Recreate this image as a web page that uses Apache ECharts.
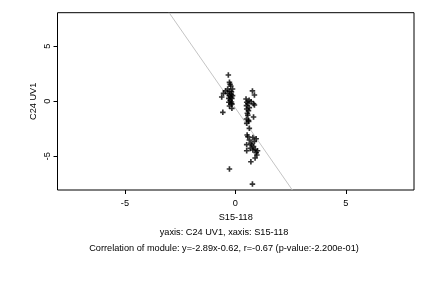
<!DOCTYPE html>
<html><head><meta charset="utf-8">
<script src="https://cdn.jsdelivr.net/npm/echarts@6/dist/echarts.min.js"></script>
<style>html,body{margin:0;padding:0;background:#fff}#c{width:432px;height:288px}</style>
</head><body><div id="c"></div>
<script>
const pointsX = [-0.32,-0.27,-0.24,-0.21,-0.35,-0.45,-0.13,-0.27,-0.18,-0.35,-0.54,-0.19,-0.27,-0.13,-0.21,-0.62,-0.30,-0.16,-0.24,-0.18,-0.30,-0.19,-0.15,-0.27,-0.16,-0.57,-0.27,
  0.77,0.86,0.48,0.62,0.71,0.51,0.82,0.86,0.56,0.50,0.63,0.51,0.59,0.54,0.56,0.82,0.50,0.59,0.60,0.51,0.63,0.53,0.56,0.79,0.94,0.63,0.86,0.70,0.51,0.74,0.82,0.67,0.89,0.51,0.79,1.00,0.94,0.97,0.89,0.70,0.77];
const pointsY = [2.39,1.72,1.54,1.39,1.12,0.94,1.12,0.91,0.85,0.72,0.72,0.63,0.51,0.51,0.39,0.39,0.27,0.27,0.09,-0.06,-0.09,-0.22,-0.25,-0.43,-0.64,-1.00,-6.15,
  0.94,0.57,0.21,0.09,-0.03,-0.09,-0.22,-0.34,-0.22,-0.40,-0.58,-0.70,-0.85,-1.09,-1.25,-1.43,-1.61,-1.73,-1.82,-2.00,-2.46,-3.06,-3.22,-3.28,-3.40,-3.52,-3.64,-3.82,-3.94,-3.97,-4.12,-4.28,-4.37,-4.49,-4.43,-4.49,-4.67,-4.88,-5.15,-5.49,-7.52];
const xTicks = [-5, 0, 5];
const yTicks = [-5, 0, 5];
const slope = -2.89, intercept = -0.62;
const xTitle = 'S15-118', yTitle = 'C24 UV1';
const subtitle1 = 'yaxis: C24 UV1, xaxis: S15-118';
const subtitle2 = 'Correlation of module: y=-2.89x-0.62, r=-0.67 (p-value:-2.200e-01)';

const xMin = -8.05, xMax = 8.08, yMin = -8.06, yMax = 8.05;
const scatterData = pointsX.map((x, i) => [x, pointsY[i]]);
const lineData = [[(yMax - intercept) / slope, yMax], [(yMin - intercept) / slope, yMin]];
const font = 'Liberation Sans, Arial, sans-serif';
const fs = 9.2;

const chart = echarts.init(document.getElementById('c'), null, {renderer: 'canvas'});
chart.setOption({
  animation: false,
  backgroundColor: '#fff',
  grid: {left: 57.5, right: 18, top: 12.7, bottom: 98, show: true, borderColor: '#000', borderWidth: 1, backgroundColor: 'transparent'},
  xAxis: {
    type: 'value', min: xMin, max: xMax,
    axisLine: {show: false, onZero: false}, splitLine: {show: false},
    axisTick: {show: true, length: 4, customValues: xTicks, lineStyle: {color: '#000'}},
    axisLabel: {customValues: xTicks, color: '#000', fontSize: fs, fontFamily: font, margin: 9},
    name: xTitle, nameLocation: 'middle', nameGap: 21, nameTextStyle: {color: '#000', fontSize: fs, fontFamily: font}
  },
  yAxis: {
    type: 'value', min: yMin, max: yMax,
    axisLine: {show: false, onZero: false}, splitLine: {show: false},
    axisTick: {show: true, length: 4, customValues: yTicks, lineStyle: {color: '#000'}},
    axisLabel: {customValues: yTicks, rotate: 90, color: '#000', fontSize: fs, fontFamily: font, margin: 6}
  },
  graphic: [
    {type: 'text', x: 33.5, y: 101.3, rotation: Math.PI / 2, style: {text: yTitle, fill: '#000', font: fs + 'px ' + font, textAlign: 'center', textVerticalAlign: 'middle'}},
    {type: 'text', x: 224, y: 232.7, style: {text: subtitle1, fill: '#000', font: fs + 'px ' + font, textAlign: 'center', textVerticalAlign: 'middle'}},
    {type: 'text', x: 224, y: 248.3, style: {text: subtitle2, fill: '#000', font: fs + 'px ' + font, textAlign: 'center', textVerticalAlign: 'middle'}}
  ],
  series: [
    {type: 'line', data: lineData, symbol: 'none', clip: true, lineStyle: {color: '#c4c4c4', width: 1}, z: 1},
    {type: 'scatter', data: scatterData, symbol: 'path://M3.5,0H6.5V3.5H10V6.5H6.5V10H3.5V6.5H0V3.5H3.5Z', symbolSize: 5.5, itemStyle: {color: '#000'}, z: 2}
  ]
});
</script></body></html>
